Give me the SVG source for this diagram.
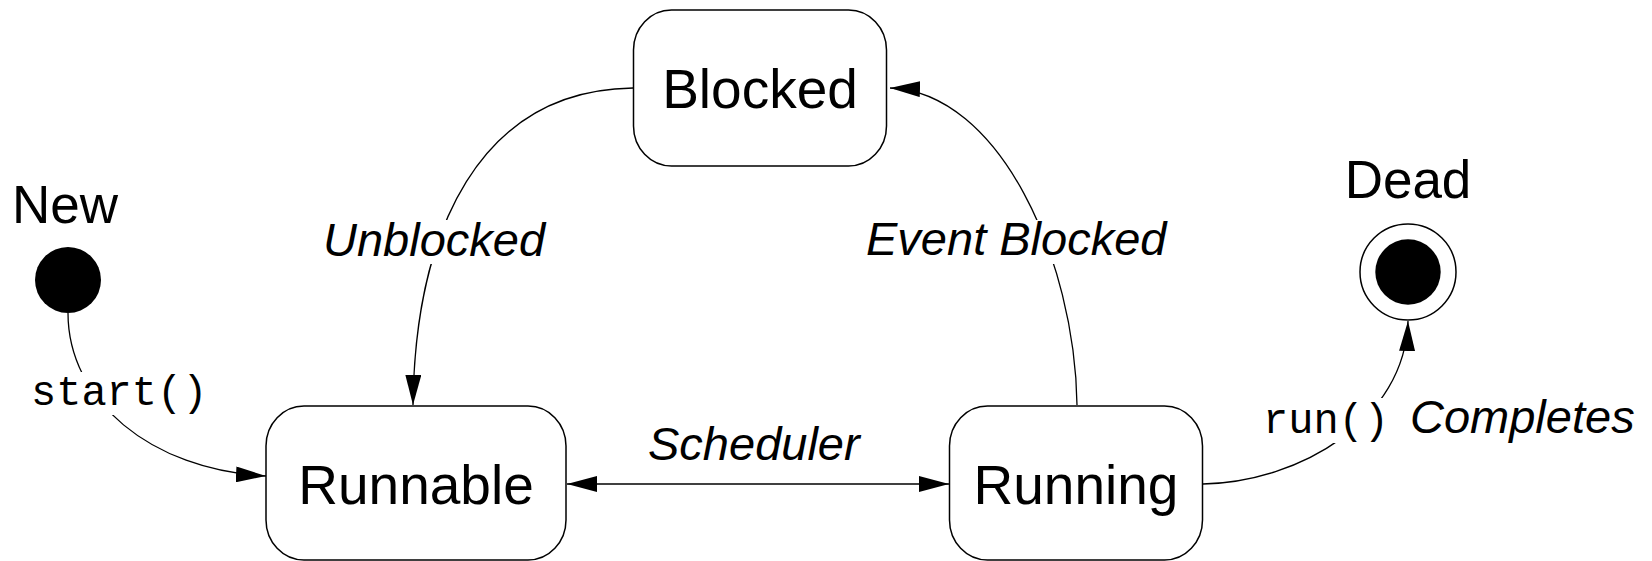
<svg xmlns="http://www.w3.org/2000/svg" width="1652" height="561" viewBox="0 0 1652 561">
<style>
.box{fill:#fff;stroke:#000;stroke-width:1.5}
.node{font-family:"Liberation Sans",Arial,sans-serif;font-size:55px;fill:#000;text-anchor:middle}
.title{font-family:"Liberation Sans",Arial,sans-serif;font-size:53px;fill:#000;text-anchor:middle}
.edge{fill:none;stroke:#000;stroke-width:1.3}
.lbl{font-family:"Liberation Sans",Arial,sans-serif;font-size:47px;font-style:italic;fill:#000}
.mono{font-family:"Liberation Mono","Courier New",monospace;font-size:42px;fill:#000}
.bg{fill:#fff;stroke:none}
</style>
<defs>
<marker id="arr" viewBox="0 0 30 16" refX="30" refY="8" markerWidth="30" markerHeight="16" markerUnits="userSpaceOnUse" orient="auto-start-reverse">
<path d="M0,0 L30,8 L0,16 Z" fill="#000"/>
</marker>
</defs>
<rect x="0" y="0" width="1652" height="561" fill="#fff"/>

<g id="connectors">
<path class="edge" d="M633,88 C480,90 415,230 413,405" marker-end="url(#arr)"/>
<path class="edge" d="M1077,405 C1075,260 1000,92 890,88" marker-end="url(#arr)"/>
<path class="edge" d="M68,313 C68,400 150,470 266,476" marker-end="url(#arr)"/>
<path class="edge" d="M1203,484 C1300,482 1405,420 1408,321" marker-end="url(#arr)"/>
<line class="edge" x1="567" y1="484" x2="949" y2="484" marker-start="url(#arr)" marker-end="url(#arr)"/>

<rect class="bg" x="322" y="220" width="228" height="44"/>
<text class="lbl" x="323" y="256">Unblocked</text>
<rect class="bg" x="864" y="220" width="310" height="44"/>
<text class="lbl" x="866" y="255">Event Blocked</text>
<rect class="bg" x="30" y="372" width="180" height="43"/>
<text class="mono" x="31" y="405">start()</text>
<rect class="bg" x="1261" y="398" width="378" height="45"/>
<text class="mono" x="1263" y="433">run()</text>
<text class="lbl" x="1410" y="433">Completes</text>
<text class="lbl" x="648" y="460">Scheduler</text>
</g>

<g id="node-new">
<circle cx="68" cy="280" r="33" fill="#000"/>
<text class="title" x="65" y="223">New</text>
</g>

<g id="node-dead">
<circle cx="1408" cy="272" r="48" fill="#fff" stroke="#000" stroke-width="1.5"/>
<circle cx="1408" cy="272" r="32.7" fill="#000"/>
<text class="title" x="1408" y="198">Dead</text>
</g>

<g id="node-blocked">
<rect class="box" x="633.5" y="10" width="253" height="156" rx="38" ry="40"/>
<text class="node" x="760" y="108">Blocked</text>
</g>

<g id="node-runnable">
<rect class="box" x="266" y="406" width="300" height="154" rx="38" ry="40"/>
<text class="node" x="416" y="504">Runnable</text>
</g>

<g id="node-running">
<rect class="box" x="949.5" y="406" width="253" height="154" rx="38" ry="40"/>
<text class="node" x="1076" y="504">Running</text>
</g>
</svg>
